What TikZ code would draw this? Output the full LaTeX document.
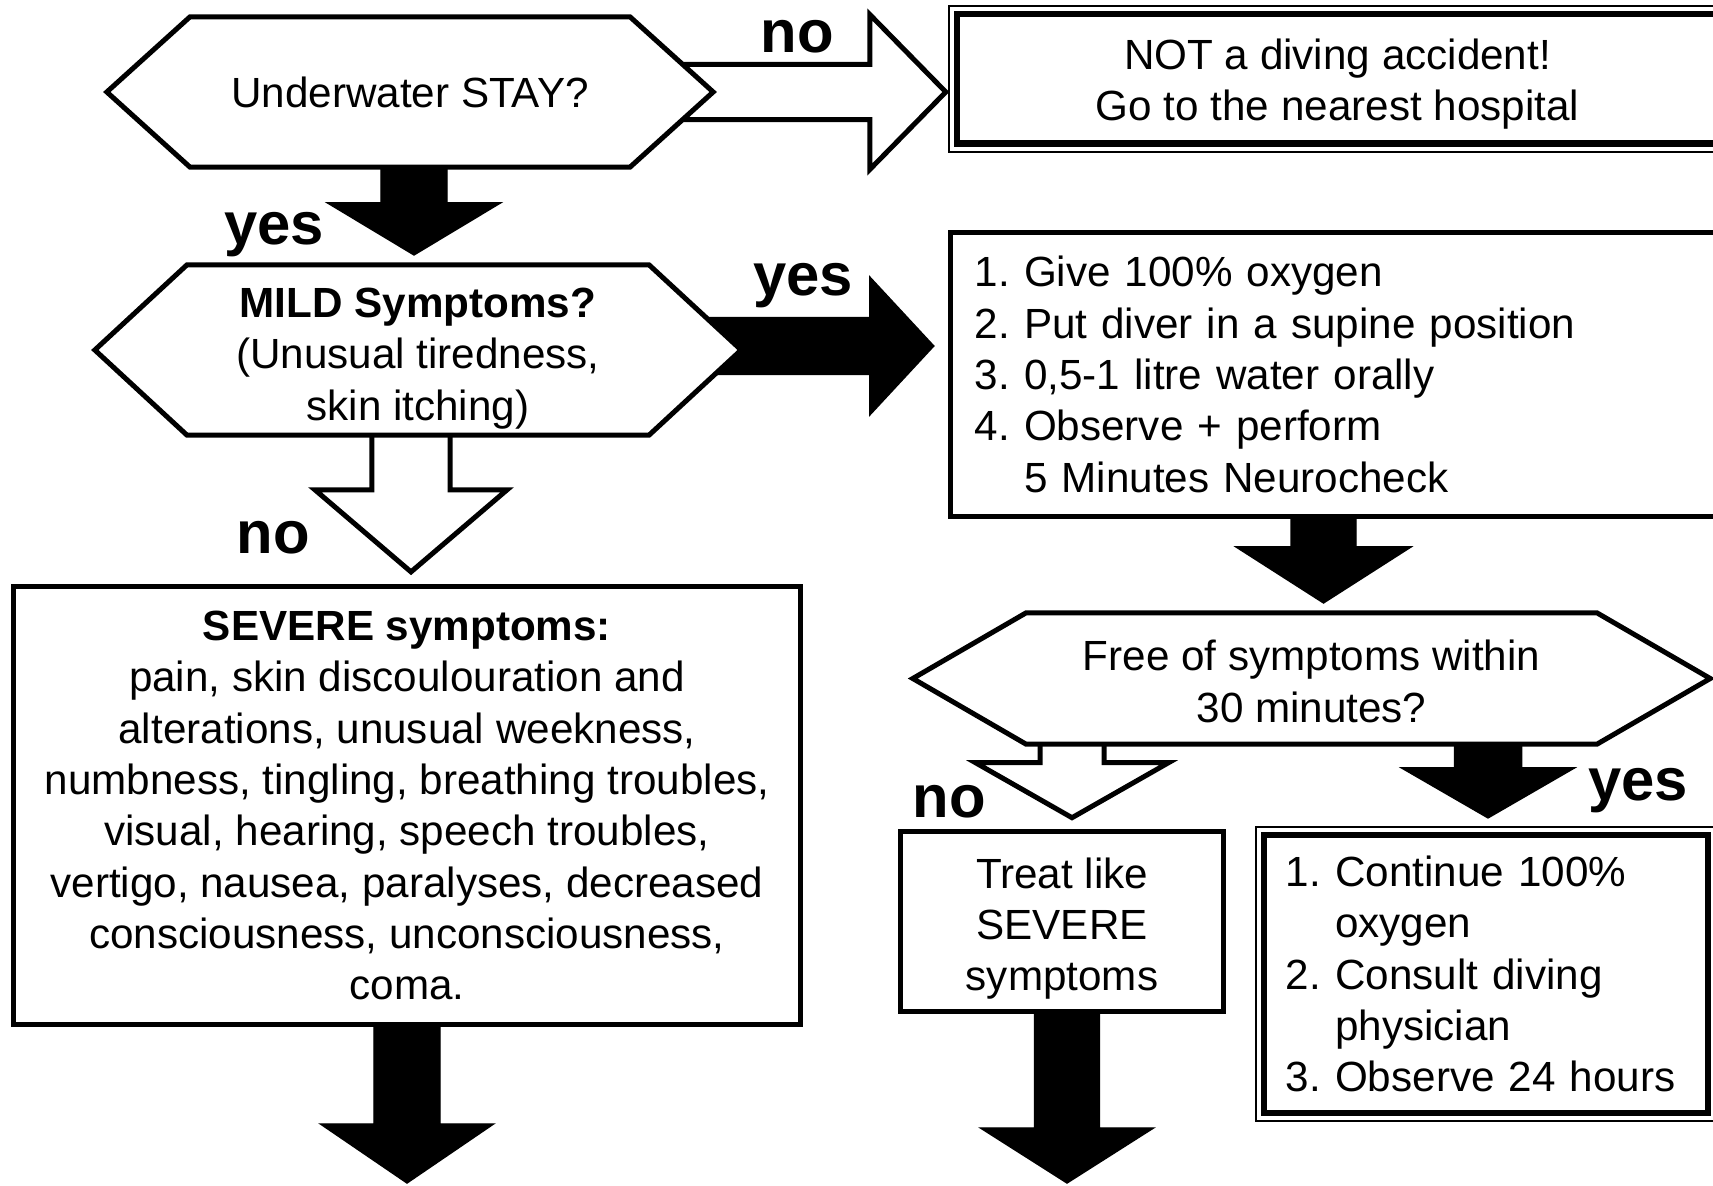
\documentclass[tikz,border=0pt]{standalone}
\usepackage{fontspec}
\setmainfont{Liberation Sans}
\usepackage{tikz}
\usetikzlibrary{calc}
\frenchspacing

\pgfdeclarelayer{arrowlayer}
\pgfdeclarelayer{framelayer}
\pgfsetlayers{arrowlayer,framelayer,main}

% block arrows: style, start, tip, half shaft, half head, head length
\newcommand{\blockdown}[6]{%
  \draw[#1] let \p1=(#2), \p2=(#3) in
    (\x1-#4,\y1) -- (\x1-#4,\y2+#6) -- (\x1-#5,\y2+#6) -- (\x1,\y2)
    -- (\x1+#5,\y2+#6) -- (\x1+#4,\y2+#6) -- (\x1+#4,\y1);}
\newcommand{\blockright}[6]{%
  \draw[#1] let \p1=(#2), \p2=(#3) in
    (\x1,\y1+#4) -- (\x2-#6,\y1+#4) -- (\x2-#6,\y1+#5) -- (\x2,\y1)
    -- (\x2-#6,\y1-#5) -- (\x2-#6,\y1-#4) -- (\x1,\y1-#4);}
% hexagon round a node: name, inset
\newcommand{\hexframe}[2]{%
  \filldraw[hexline] (#1.west) -- ([xshift=#2]#1.north west) -- ([xshift=-#2]#1.north east)
    -- (#1.east) -- ([xshift=-#2]#1.south east) -- ([xshift=#2]#1.south west) -- cycle;}
% taller first line, pushes the text down
\newcommand{\topstrut}[1]{\rule{0pt}{#1}}

\begin{document}
\begin{tikzpicture}[x=0.01cm, y=-0.01cm,
    font=\fontsize{12pt}{14.6pt}\selectfont,
    every node/.style={inner sep=0pt, outer sep=0pt},
    hexline/.style={draw, fill=white, line width=0.05cm, line join=miter},
    box/.style={draw, fill=white, line width=0.05cm},
    thickbox/.style={draw, fill=white, line width=0.065cm},
    thinline/.style={draw, line width=0.02cm},
    hollowarrow/.style={draw, fill=white, line width=0.05cm, line join=miter},
    solidarrow/.style={fill=black},
    answer/.style={anchor=base, font=\fontsize{17pt}{17pt}\selectfont\bfseries}]

    \useasboundingbox (0,0) rectangle (1713,1185);

    \node[minimum width=6.06cm, minimum height=1.5cm, align=center] at (410, 92) (stay) {Underwater STAY?};
    \node[minimum width=6.46cm, minimum height=1.7cm, align=center] at (418, 350) (mild) {\topstrut{13.1pt}\textbf{MILD Symptoms?}\\(Unusual tiredness,\\skin itching)};
    \node[minimum width=7.97cm, minimum height=1.31cm, align=center] at (1311.5, 678.5) (free) {\topstrut{10.4pt}Free of symptoms within\\30 minutes?};

    \node[thickbox, minimum width=7.61cm, minimum height=1.295cm, align=center] at (1337.5, 78.75) (notacc) {\topstrut{11.8pt}NOT a diving accident!\\Go to the nearest hospital};
    \node[box, minimum width=7.71cm, minimum height=2.83cm, inner xsep=0.24cm, text width=7.23cm, align=left] at (1336.5, 374.5) (give) {1. Give 100\% oxygen\\2. Put diver in a supine position\\3. 0,5-1 litre water orally\\4. Observe + perform\\\phantom{4. }5 Minutes Neurocheck};
    \node[box, minimum width=7.86cm, minimum height=4.37cm, align=center] at (407, 805.5) (severe) {\textbf{SEVERE symptoms:}\\pain, skin discoulouration and\\alterations, unusual weekness,\\numbness, tingling, breathing troubles,\\visual, hearing, speech troubles,\\vertigo, nausea, paralyses, decreased\\consciousness, unconsciousness,\\coma.};
    \node[box, minimum width=3.235cm, minimum height=1.795cm, align=center] at (1062, 921.5) (treat) {\topstrut{12.7pt}Treat like\\SEVERE\\symptoms};
    \node[thickbox, minimum width=4.44cm, minimum height=2.78cm, inner xsep=0.22cm, text width=4.0cm, align=left] at (1486, 974) (cont) {1. Continue 100\%\\\phantom{1. }oxygen\\2. Consult diving\\\phantom{2. }physician\\3. Observe 24 hours};

    \draw[thinline] ($(notacc.north west)+(-8,-8)$) rectangle ($(notacc.south east)+(8,8)$);
    \draw[thinline] ($(cont.north west)+(-8,-8)$) rectangle ($(cont.south east)+(8,8)$);

    \coordinate (out1) at (407, 1183);
    \coordinate (out2) at (1067, 1183);

    \begin{pgfonlayer}{framelayer}
    \hexframe{stay}{0.83cm}
    \hexframe{mild}{0.92cm}
    \hexframe{free}{1.13cm}
    \end{pgfonlayer}

    \begin{pgfonlayer}{arrowlayer}
    \blockright{hollowarrow}{$(stay.east)+(-40,0)$}{$(notacc.west)+(-11,0)$}{0.275cm}{0.775cm}{0.76cm}
    \blockdown{solidarrow}{$(stay.south)+(4,-3)$}{$(mild.north)+(0,-10)$}{0.33cm}{0.865cm}{0.52cm}
    \blockright{solidarrow}{$(mild.east)+(-40,-4)$}{$(give.west)+(-17,0)$}{0.285cm}{0.69cm}{0.64cm}
    \blockdown{hollowarrow}{$(mild.south)+(-7,-3)$}{$(severe.north)+(0,-15)$}{0.39cm}{0.96cm}{0.82cm}
    \blockdown{solidarrow}{$(severe.south)+(0,-3)$}{out1}{0.33cm}{0.865cm}{0.59cm}
    \blockdown{solidarrow}{$(give.south)+(-13,-3)$}{$(free.north)+(0,-10)$}{0.325cm}{0.875cm}{0.56cm}
    \blockdown{hollowarrow}{$(treat.north |- free.south)+(10,-3)$}{$(treat.north)+(0,-14)$}{0.32cm}{0.965cm}{0.55cm}
    \blockdown{solidarrow}{$(cont.north |- free.south)+(2,-3)$}{$(cont.north)+(0,-17)$}{0.335cm}{0.865cm}{0.50cm}
    \blockdown{solidarrow}{$(treat.south)+(5,-3)$}{out2}{0.325cm}{0.865cm}{0.55cm}
    \end{pgfonlayer}

    \node[answer] at (797, 53) (no1) {no};
    \node[answer] at (274, 245) (yes1) {yes};
    \node[answer] at (803, 295) (yes2) {yes};
    \node[answer] at (273, 553) (no2) {no};
    \node[answer] at (949, 817) (no3) {no};
    \node[answer] at (1638, 800) (yes3) {yes};
\end{tikzpicture}
\end{document}
